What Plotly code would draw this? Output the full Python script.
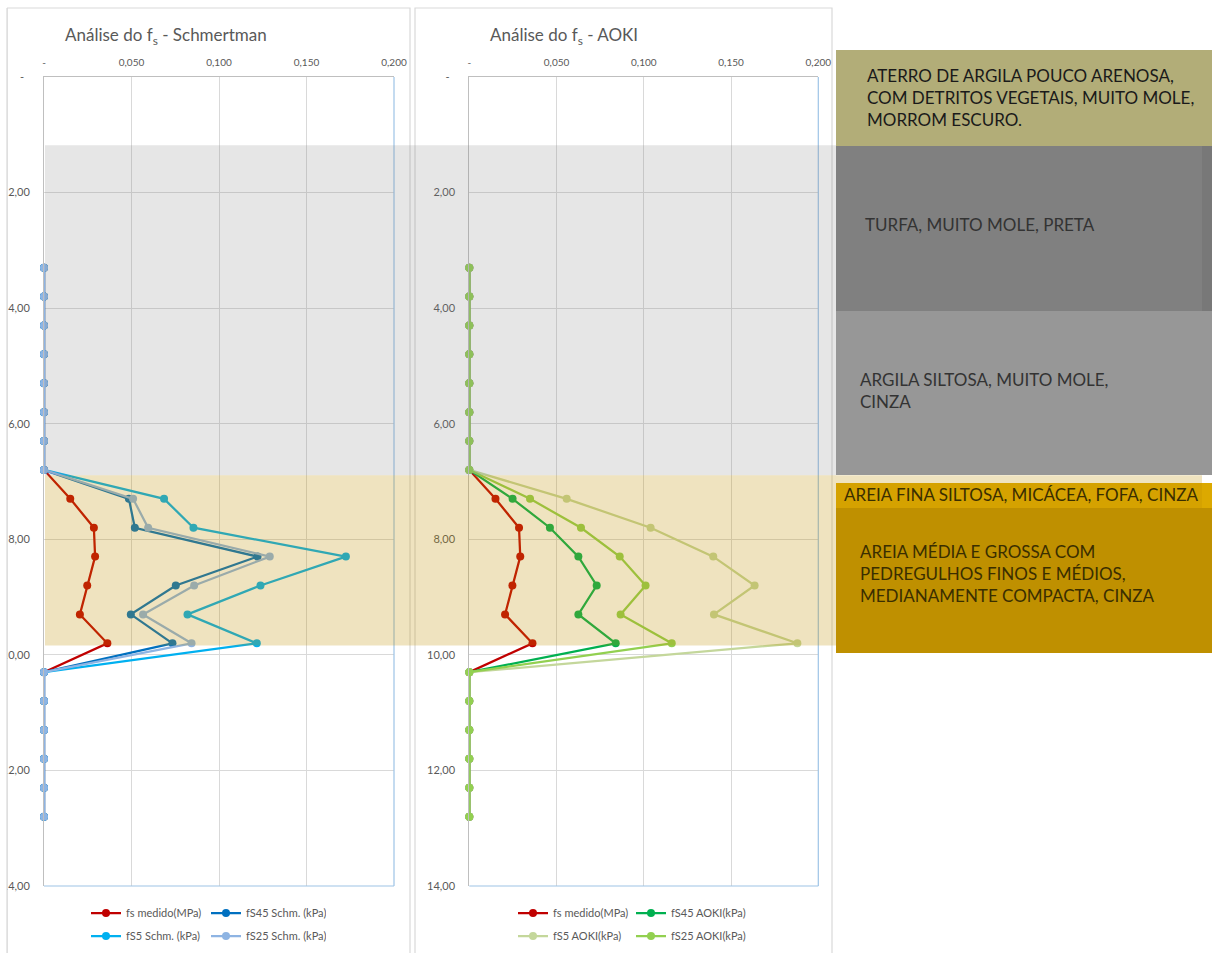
import plotly.graph_objects as go

W, H = 1212, 953

# Depth of each reading (m)
depth = [3.3, 3.8, 4.3, 4.8, 5.3, 5.8, 6.3, 6.8, 7.3, 7.8,
         8.3, 8.8, 9.3, 9.8, 10.3, 10.8, 11.3, 11.8, 12.3, 12.8]

# Measured sleeve friction and the two estimation methods
fs_medido = [0, 0, 0, 0, 0, 0, 0, 0, 0.0150, 0.0285,
             0.0292, 0.0247, 0.0205, 0.0362, 0, 0, 0, 0, 0, 0]
fs45_schm = [0, 0, 0, 0, 0, 0, 0, 0, 0.0485, 0.0519,
             0.1220, 0.0753, 0.0496, 0.0734, 0, 0, 0, 0, 0, 0]
fs5_schm = [0, 0, 0, 0, 0, 0, 0, 0, 0.0686, 0.0854,
            0.1725, 0.1237, 0.0820, 0.1216, 0, 0, 0, 0, 0, 0]
fs25_schm = [0, 0, 0, 0, 0, 0, 0, 0, 0.0509, 0.0595,
             0.1290, 0.0858, 0.0566, 0.0843, 0, 0, 0, 0, 0, 0]
fs45_aoki = [0, 0, 0, 0, 0, 0, 0, 0, 0.0248, 0.0462,
             0.0625, 0.0730, 0.0625, 0.0839, 0, 0, 0, 0, 0, 0]
fs5_aoki = [0, 0, 0, 0, 0, 0, 0, 0, 0.0558, 0.1039,
            0.1398, 0.1635, 0.1402, 0.1880, 0, 0, 0, 0, 0, 0]
fs25_aoki = [0, 0, 0, 0, 0, 0, 0, 0, 0.0348, 0.0640,
             0.0862, 0.1010, 0.0867, 0.1160, 0, 0, 0, 0, 0, 0]

x_ticks = [0, 0.05, 0.10, 0.15, 0.20]
x_labels = ["-", "0,050", "0,100", "0,150", "0,200"]
y_ticks = [0, 2, 4, 6, 8, 10, 12, 14]
y_labels = ["-\u00a0\u00a0", "2,00", "4,00", "6,00", "8,00", "10,00", "12,00", "14,00"]

# Soil layers crossing both profiles (depth limits, m)
soft_layer = [1.18, 6.89]
sand_layer = [6.89, 9.84]

soil_texts = [
    "ATERRO DE ARGILA POUCO ARENOSA,<br>COM DETRITOS VEGETAIS, MUITO MOLE,<br>MORROM ESCURO.",
    "TURFA, MUITO MOLE, PRETA",
    "ARGILA SILTOSA, MUITO MOLE,<br>CINZA",
    "AREIA FINA SILTOSA, MICÁCEA, FOFA, CINZA",
    "AREIA MÉDIA E GROSSA COM<br>PEDREGULHOS FINOS E MÉDIOS,<br>MEDIANAMENTE COMPACTA, CINZA",
]

FONT = "Lato, 'Open Sans', sans-serif"
GREY_TXT = "#595959"


def px(x):
    return x / W


def py(y):
    return 1 - y / H


fig = go.Figure()

left_series = [
    ("fs medido(MPa)", fs_medido, "#C00000", "legend"),
    ("fS45 Schm. (kPa)", fs45_schm, "#0070C0", "legend"),
    ("fS5 Schm. (kPa)", fs5_schm, "#00B0F0", "legend2"),
    ("fS25 Schm. (kPa)", fs25_schm, "#8EB4E3", "legend2"),
]
right_series = [
    ("fs medido(MPa)", fs_medido, "#C00000", "legend3"),
    ("fS45 AOKI(kPa)", fs45_aoki, "#00B050", "legend3"),
    ("fS5 AOKI(kPa)", fs5_aoki, "#C4D79B", "legend4"),
    ("fS25 AOKI(kPa)", fs25_aoki, "#92D050", "legend4"),
]

for name, vals, col, leg in left_series:
    fig.add_trace(go.Scatter(
        x=vals, y=depth, name=name, mode="lines+markers", cliponaxis=False,
        line=dict(color=col, width=2.25), marker=dict(color=col, size=8),
        xaxis="x", yaxis="y", legend=leg))

for name, vals, col, leg in right_series:
    fig.add_trace(go.Scatter(
        x=vals, y=depth, name=name, mode="lines+markers", cliponaxis=False,
        line=dict(color=col, width=2.25), marker=dict(color=col, size=8),
        xaxis="x2", yaxis="y2", legend=leg))

y_dom = [py(886), py(77)]

xaxis_common = dict(
    range=[0, 0.2], side="top", tickvals=x_ticks, ticktext=x_labels,
    showgrid=True, gridcolor="#D9D9D9", gridwidth=1,
    showline=True, linecolor="#BFBFBF", linewidth=1,
    zeroline=False, ticks="", ticklabelstandoff=6,
    tickfont=dict(family=FONT, size=10, color=GREY_TXT), fixedrange=True,
)
yaxis_common = dict(
    range=[14, 0], tickvals=y_ticks, ticktext=y_labels,
    showgrid=True, gridcolor="#D9D9D9", gridwidth=1,
    showline=True, linecolor="#BFBFBF", linewidth=1,
    zeroline=False, ticks="", ticklabelstandoff=11,
    tickfont=dict(family=FONT, size=11, color=GREY_TXT), fixedrange=True,
    domain=y_dom,
)

legend_common = dict(
    orientation="h", bgcolor="rgba(0,0,0,0)", borderwidth=0,
    font=dict(family=FONT, size=11, color=GREY_TXT),
    xanchor="left", yanchor="middle", xref="paper", yref="paper",
    entrywidthmode="pixels", traceorder="normal",
)

fig.update_layout(
    width=W, height=H, margin=dict(l=0, r=0, t=0, b=0, autoexpand=False),
    paper_bgcolor="white", plot_bgcolor="white",
    xaxis=dict(xaxis_common, domain=[px(44), px(394)], anchor="y"),
    yaxis=dict(yaxis_common, anchor="x"),
    xaxis2=dict(xaxis_common, domain=[px(469.3), px(818.3)], anchor="y2"),
    yaxis2=dict(yaxis_common, anchor="x2"),
    legend=dict(legend_common, x=px(86), y=py(913), entrywidth=75),
    legend2=dict(legend_common, x=px(86), y=py(936), entrywidth=75),
    legend3=dict(legend_common, x=px(513), y=py(913), entrywidth=73),
    legend4=dict(legend_common, x=px(513), y=py(936), entrywidth=73),
    showlegend=True,
)

shapes = []
# chart frames
for x0, x1 in [(7, 410), (415, 832)]:
    shapes.append(dict(type="rect", xref="paper", yref="paper",
                       x0=px(x0), x1=px(x1), y0=py(965), y1=py(8),
                       line=dict(color="#D9D9D9", width=1.2),
                       fillcolor="rgba(0,0,0,0)", layer="below"))
# the left frame clips the depth labels
shapes.append(dict(type="rect", xref="paper", yref="paper",
                   x0=0, x1=px(7), y0=0, y1=1, line=dict(width=0),
                   fillcolor="white", layer="above"))
shapes.append(dict(type="line", xref="paper", yref="paper",
                   x0=px(7), x1=px(7), y0=0, y1=py(8),
                   line=dict(color="#D9D9D9", width=1.2), layer="above"))
# secondary (right/bottom) plot edges in light blue
for xa, ya in [("x", "y"), ("x2", "y2")]:
    shapes.append(dict(type="line", xref=f"{xa} domain", yref=f"{ya} domain",
                       x0=1, x1=1, y0=0, y1=1,
                       line=dict(color="#9DC3E6", width=1.2), layer="above"))
    shapes.append(dict(type="line", xref=f"{xa} domain", yref=f"{ya} domain",
                       x0=0, x1=1, y0=0, y1=0,
                       line=dict(color="#9DC3E6", width=1.2), layer="above"))

# soil description blocks on the right
blocks = [
    (836, 1212, 50, 146, "#B2AD78"),
    (836, 1202, 146, 311, "#808080"),
    (1202, 1212, 146, 311, "#787878"),
    (836, 1212, 311, 475, "#979797"),
    (836, 1212, 483, 508, "#DCA900"),
    (836, 1212, 508, 653, "#BF9000"),
]
for x0, x1, y0, y1, col in blocks:
    shapes.append(dict(type="rect", xref="paper", yref="paper",
                       x0=px(x0), x1=px(x1), y0=py(y1), y1=py(y0),
                       line=dict(width=0), fillcolor=col, layer="above"))

# translucent layer bands over both profiles
shapes.append(dict(type="rect", xref="paper", yref="y",
                   x0=px(45), x1=px(836), y0=soft_layer[0], y1=soft_layer[1],
                   line=dict(width=0), fillcolor="rgba(128,128,128,0.2)", layer="above"))
shapes.append(dict(type="rect", xref="paper", yref="y",
                   x0=px(45), x1=px(1202), y0=sand_layer[0], y1=sand_layer[1],
                   line=dict(width=0), fillcolor="rgba(190,145,0,0.25)", layer="above"))
fig.update_layout(shapes=shapes)

annotations = [
    dict(text="Análise do f<sub>s</sub> - Schmertman", x=px(63), y=py(36)),
    dict(text="Análise do f<sub>s</sub> - AOKI", x=px(488), y=py(36)),
]
for a in annotations:
    a.update(xref="paper", yref="paper", xanchor="left", yanchor="middle",
             showarrow=False, font=dict(family=FONT, size=17, color=GREY_TXT))

soil_pos = [(865, 97, "#1A1A1A"), (863, 224, "#333333"), (858, 390, "#333333"),
            (842, 495, "#3A2E00"), (858, 573, "#3A2E00")]
for txt, (x, y, col) in zip(soil_texts, soil_pos):
    annotations.append(dict(text=txt, x=px(x), y=py(y), xref="paper", yref="paper",
                            xanchor="left", yanchor="middle", align="left",
                            showarrow=False,
                            font=dict(family=FONT, size=17, color=col)))
fig.update_layout(annotations=annotations)

fig.write_html("out.html")
